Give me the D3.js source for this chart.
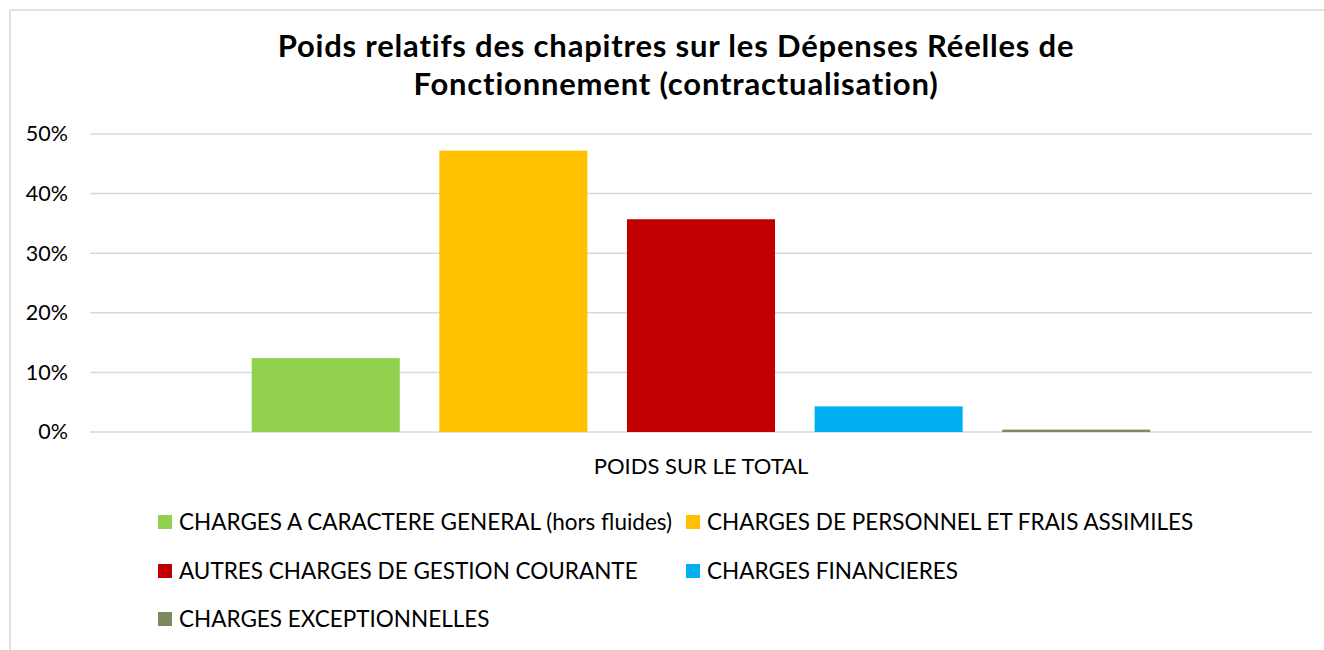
<!DOCTYPE html>
<html>
<head>
<meta charset="utf-8">
<script src="https://cdn.jsdelivr.net/npm/d3@7"></script>
<style>
  body { margin: 0; background: #fff; }
  text { font-family: Lato, "Open Sans", sans-serif; fill: #000; }
</style>
</head>
<body>
<div id="chart-area"></div>
<script>
// data
var categories = ["POIDS SUR LE TOTAL"];
var series = [
    "CHARGES A CARACTERE GENERAL (hors fluides)",
    "CHARGES DE PERSONNEL ET FRAIS ASSIMILES",
    "AUTRES CHARGES DE GESTION COURANTE",
    "CHARGES FINANCIERES",
    "CHARGES EXCEPTIONNELLES"
];
var values = [0.124, 0.472, 0.357, 0.043, 0.004];
var colors = ["#92d050", "#ffc000", "#c00000", "#00b0f0", "#7b8b5d"];
var yTicks = [0, 0.1, 0.2, 0.3, 0.4, 0.5];
var titleLines = ["Poids relatifs des chapitres sur les Dépenses Réelles de", "Fonctionnement (contractualisation)"];

var W = 1324, H = 650;
var margin = {left: 90, right: 12, top: 134, bottom: 218};
var width = W - margin.left - margin.right;
var height = H - margin.top - margin.bottom;

var svg = d3.select("#chart-area")
  .append("svg")
    .attr("width", W)
    .attr("height", H);

// chart frame
svg.append("rect")
    .attr("x", 10).attr("y", 10)
    .attr("width", W + 20).attr("height", H + 20)
    .attr("fill", "none")
    .attr("stroke", "#d9d9d9")
    .attr("stroke-width", 1.5);

// title, one text per line
svg.selectAll("text.title").data(titleLines).enter()
  .append("text")
    .attr("class", "title")
    .attr("x", 676)
    .attr("y", (d, i) => 57 + i * 38)
    .attr("font-size", "31px")
    .attr("font-weight", "bold")
    .attr("letter-spacing", "0.8px")
    .attr("text-anchor", "middle")
    .text((d) => d);

var g = svg.append("g")
    .attr("transform", "translate(" + margin.left + ", " + margin.top + ")");

var x0 = d3.scaleBand()
    .domain(categories)
    .range([0, width]);

var x = d3.scaleBand()
    .domain(series)
    .range([0, x0.bandwidth()])
    .paddingInner(0.211)
    .paddingOuter(0.862);

var y = d3.scaleLinear()
    .domain([0, 0.5])
    .range([height, 0]);

// gridlines
g.selectAll("line.grid").data(yTicks).enter()
  .append("line")
    .attr("class", "grid")
    .attr("x1", 0).attr("x2", width)
    .attr("y1", (d) => y(d)).attr("y2", (d) => y(d))
    .attr("stroke", "#d9d9d9")
    .attr("stroke-width", 1.5);

var yAxisCall = d3.axisLeft(y)
    .tickValues(yTicks)
    .tickSize(0)
    .tickPadding(22)
    .tickFormat(d3.format(".0%"));
g.append("g")
    .attr("class", "left axis")
    .call(yAxisCall)
    .call((a) => a.select(".domain").remove())
    .selectAll("text")
    .attr("font-size", "21.5px")
    .style("font-family", "Lato, sans-serif");

var groups = g.selectAll("g.cat").data(categories).enter()
  .append("g")
    .attr("class", "cat")
    .attr("transform", (d) => "translate(" + x0(d) + ",0)");

groups.selectAll("rect")
    .data(series.map((s, i) => ({name: s, value: values[i], color: colors[i]})))
    .enter()
  .append("rect")
    .attr("x", (d) => x(d.name))
    .attr("y", (d) => y(d.value))
    .attr("width", x.bandwidth())
    .attr("height", (d) => height - y(d.value))
    .attr("fill", (d) => d.color);

var bottomAxis = d3.axisBottom(x0).tickSize(0).tickPadding(26);
g.append("g")
    .attr("class", "bottom axis")
    .attr("transform", "translate(0, " + height + ")")
    .call(bottomAxis)
    .call((a) => a.select(".domain").remove())
    .selectAll("text")
    .attr("font-size", "22px")
    .style("font-family", "Lato, sans-serif");

// legend
var legendPos = [[158, 522], [686, 522], [158, 571], [686, 571], [158, 619]];
var legend = svg.selectAll("g.legend").data(series).enter()
  .append("g")
    .attr("class", "legend")
    .attr("transform", (d, i) => "translate(" + legendPos[i][0] + "," + legendPos[i][1] + ")");

legend.append("rect")
    .attr("x", 0).attr("y", -7)
    .attr("width", 14).attr("height", 14)
    .attr("fill", (d, i) => colors[i]);

legend.append("text")
    .attr("x", 21)
    .attr("y", 8)
    .attr("font-size", "22.5px")
    .text((d) => d);
</script>
</body>
</html>
